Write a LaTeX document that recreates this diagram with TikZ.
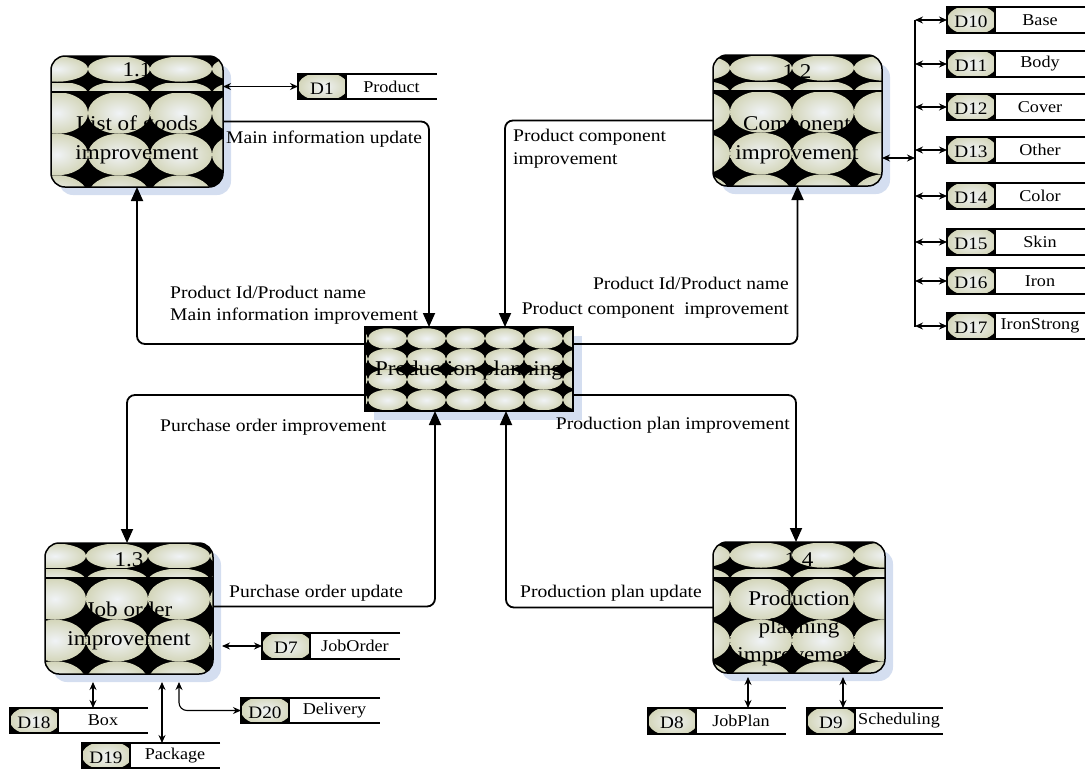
\documentclass[tikz,border=0pt]{standalone}
\usepackage{fontspec}
\setmainfont{Liberation Serif}[FakeStretch=1.1]
\usetikzlibrary{arrows.meta,calc}
\definecolor{shadowblue}{RGB}{212,222,240}
\definecolor{tileout}{RGB}{212,214,186}
\definecolor{tilein}{RGB}{240,243,246}
\tikzset{
 flow/.style={line width=1.8pt, rounded corners=8pt, -{Triangle[length=14pt,width=12pt]}},
 sarrow/.style={line width=1.1pt, {Stealth[length=8pt,width=7pt]}-{Stealth[length=8pt,width=7pt]}},
 lbl/.style={font=\fontsize{17.8}{21}\selectfont, inner sep=0pt},
 ptext/.style={font=\fontsize{21}{29}\selectfont, align=center, inner sep=0pt},
 dlab/.style={font=\fontsize{17.5}{19}\selectfont, inner sep=0pt},
 sname/.style={font=\fontsize{16.5}{19}\selectfont, inner sep=0pt},
 box/.style={inner sep=0pt, outer sep=0pt, rectangle},
 tile/.style={inner color=tilein, outer color=tileout},
}
% #1 name,#2 x1,#3 y1,#4 x2,#5 y2,#6 header y,#7 first column centre,#8 first body row centre
\newcommand{\procbox}[8]{%
 \node[box, minimum width={(#4-#2)*1pt}, minimum height={(#5-#3)*1pt}] (#1) at ({(#2+#4)/2},{(#3+#5)/2}) {};
 \fill[shadowblue, rounded corners=14pt] ({#2+8},{#3+8}) rectangle ({#4+8},{#5+8});
 \begin{scope}
  \clip[rounded corners=14pt] (#2,#3) rectangle (#4,#5);
  \fill[black] (#2,#3) rectangle (#4,#5);
  \begin{scope}
   \clip (#2,#3) rectangle (#4,#6);
   \foreach \c in {0,...,3}{\foreach \r in {0,1}{
    \shade[tile] ({#7+\c*62},{#3+13+\r*25}) ellipse [x radius=31pt, y radius=12.5pt];}}
  \end{scope}
  \begin{scope}
   \clip (#2,#6) rectangle (#4,#5);
   \foreach \c in {0,...,3}{\foreach \r in {0,1,2}{
    \shade[tile] ({#7+\c*62},{#8+\r*41.5}) ellipse [x radius=31pt, y radius=20.75pt];}}
  \end{scope}
 \end{scope}
 \draw[line width=1.5pt, rounded corners=14pt] (#2,#3) rectangle (#4,#5);
 \draw[line width=0.8pt] (#2,{#6-10}) -- (#4,{#6-10});
 \draw[line width=1.4pt] (#2,#6) -- (#4,#6);
}
% #1 name,#2 x,#3 y top,#4 width,#5 height,#6 id,#7 text
\newcommand{\dstore}[7]{%
 \node[box, minimum width=#4pt, minimum height=#5pt, anchor=north west] (#1) at (#2,#3) {};
 \begin{scope}
  \clip (#2,#3) rectangle ({#2+48},{#3+#5});
  \fill[black] (#2,#3) rectangle ({#2+48},{#3+#5});
  \shade[tile] ({#2+25},{#3+#5/2}) ellipse [x radius=25pt, y radius={(#5/2+2)*1pt}];
 \end{scope}
 \draw[line width=2pt] ({#2+#4},#3) -- (#2,#3) -- (#2,{#3+#5}) -- ({#2+#4},{#3+#5});
 \draw[line width=2.6pt] (#2,#3) -- (#2,{#3+#5});
 \draw[line width=1.2pt] ({#2+48},#3) -- ({#2+48},{#3+#5});
 \node[dlab] (#1-id) at ({#2+24},{#3+#5/2+2}) {#6};
 \node[sname] (#1-txt) at ({#2+(48+#4)/2},{#3+#5/2}) {#7};
}
\begin{document}
\begin{tikzpicture}[x=1pt,y=-1pt]
\useasboundingbox (0,0) rectangle (1092,772);

% processes
\procbox{p11}{51}{56}{223}{187}{92}{57}{113}
\procbox{p12}{713}{55}{882}{186}{91}{699}{112}
\procbox{p13}{45}{543}{213}{674}{578}{55}{599}
\procbox{p14}{713}{542}{885}{673}{578}{699}{599}

% central
\node[box, minimum width=208pt, minimum height=84pt] (cen) at (469,369) {};
\fill[shadowblue] (374,336) rectangle (582,420);
\begin{scope}
 \clip (365,327) rectangle (573,411);
 \fill[black] (365,327) rectangle (573,411);
 \foreach \c in {0,...,6}{\foreach \r in {0,...,3}{
  \shade[tile] ({348.5+\c*39},{338.5+\r*20.5}) ellipse [x radius=19.5pt, y radius=10.25pt];}}
\end{scope}
\draw[line width=2pt] (365,327) rectangle (573,411);

% texts of processes
\node[ptext] (t11a) at (137,70) {1.1};
\node[ptext] (t11b) at (137,140) {List of goods\\improvement};
\node[ptext] (t12a) at (797,72) {1.2};
\node[ptext] (t12b) at (797,140) {Component\\improvement};
\node[ptext] (t13a) at (129,560) {1.3};
\node[ptext] (t13b) at (129,626) {Job order\\improvement};
\node[ptext] (t14a) at (799,560) {1.4};
\node[ptext, font=\fontsize{21}{28}\selectfont] (t14b) at (799,628) {Production\\planning\\improvement};
\node[ptext] (tc) at (469,370) {Production planning};

% data stores
\dstore{d1}{298}{74}{139}{25}{D1}{Product}
\dstore{d10}{947}{7}{138}{26}{D10}{Base}
\dstore{d11}{947}{51}{138}{26}{D11}{Body}
\dstore{d12}{947}{94}{138}{26}{D12}{Cover}
\dstore{d13}{947}{137}{138}{26}{D13}{Other}
\dstore{d14}{947}{183}{138}{26}{D14}{Color}
\dstore{d15}{947}{229}{138}{26}{D15}{Skin}
\dstore{d16}{947}{268}{138}{26}{D16}{Iron}
\dstore{d17}{947}{313}{138}{26}{D17}{IronStrong}
\dstore{d7}{262}{633}{138}{26}{D7}{JobOrder}
\dstore{d18}{10}{708}{138}{25}{D18}{Box}
\dstore{d19}{82}{743}{138}{25}{D19}{Package}
\dstore{d20}{241}{698}{139}{25}{D20}{Delivery}
\dstore{d8}{648}{708}{138}{26}{D8}{JobPlan}
\dstore{d9}{807}{708}{136}{26}{D9}{Scheduling}

% main flows
\draw[flow] (p11.east) -| ([xshift=-40pt]cen.north);
\draw[flow] ([yshift=25pt]cen.west) -| (p11.south);
\draw[flow] (p12.west) -| ([xshift=36pt]cen.north);
\draw[flow] ([yshift=25pt]cen.east) -| (p12.south);
\draw[flow] ([yshift=-26pt]cen.west) -| ([xshift=-2pt]p13.north);
\draw[flow] ([yshift=-26pt]cen.east) -| ([xshift=-3pt]p14.north);
\draw[flow] ([yshift=2pt]p13.east) -| ([xshift=-34pt]cen.south);
\draw[flow] (p14.west) -| ([xshift=37pt]cen.south);

% flow labels
\node[lbl, anchor=west] (l1) at (226,139) {Main information update};
\node[lbl, anchor=west] (l2) at (170,292) {Product Id/Product name};
\node[lbl, anchor=west] (l3) at (170,316) {Main information improvement};
\node[lbl, anchor=west] (l4) at (513,137) {Product component};
\node[lbl, anchor=west] (l5) at (513,160) {improvement};
\node[lbl, anchor=east] (l6) at (789,283) {Product Id/Product name};
\node[lbl, anchor=east] (l7) at (789,310) {Product component~ improvement};
\node[lbl, anchor=west] (l8) at (160,427) {Purchase order improvement};
\node[lbl, anchor=east] (l9) at (790,425) {Production plan improvement};
\node[lbl, anchor=west] (l10) at (229,593) {Purchase order update};
\node[lbl, anchor=west] (l11) at (520,593) {Production plan update};

% store connectors
\draw[sarrow] (d1.west -| p11.east) -- (d1.west);
\coordinate (busT) at (915,20);
\coordinate (busB) at (915,327);
\draw[line width=1.2pt] (busT) -- (busB);
\coordinate (c12) at ([yshift=-37.5pt]p12.east);
\draw[sarrow] (c12) -- (c12 -| busT);
\foreach \s in {d10,d11,d12,d13,d14,d15,d16,d17}{\draw[sarrow] (\s.west -| busT) -- (\s.west);}
\coordinate (p13e) at ([xshift=9pt]p13.east);
\draw[sarrow] (d7.west -| p13e) -- (d7.west);
\coordinate (a18) at ([xshift=-36pt,yshift=-8pt]p13.south);
\draw[sarrow] (a18) -- (a18 |- d18.north);
\coordinate (a19) at ([xshift=33pt,yshift=-8pt]p13.south);
\draw[sarrow] (a19) -- (a19 |- d19.north);
\coordinate (a20) at ([xshift=50pt,yshift=-8pt]p13.south);
\draw[sarrow, rounded corners=8pt] (a20) |- (d20.west);
\coordinate (a8) at ([xshift=-51pt,yshift=-4pt]p14.south);
\draw[sarrow] (a8) -- (a8 |- d8.north);
\coordinate (a9) at ([xshift=44pt,yshift=-4pt]p14.south);
\draw[sarrow] (a9) -- (a9 |- d9.north);
\end{tikzpicture}
\end{document}
